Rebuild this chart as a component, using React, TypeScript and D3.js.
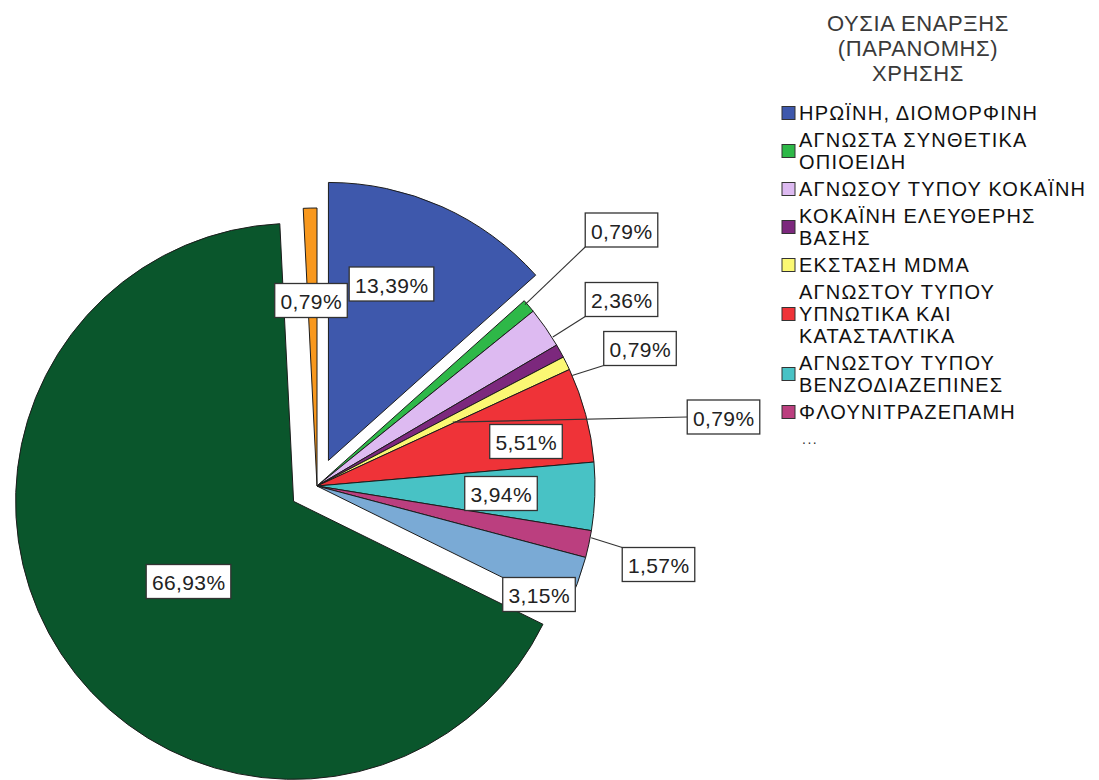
import React, { useMemo } from "react";
import * as d3 from "d3";

// ---------- data ----------
const CATEGORIES = [
  "ΗΡΩΪΝΗ, ΔΙΟΜΟΡΦΙΝΗ",
  "ΑΓΝΩΣΤΑ ΣΥΝΘΕΤΙΚΑ ΟΠΙΟΕΙΔΗ",
  "ΑΓΝΩΣΟΥ ΤΥΠΟΥ ΚΟΚΑΪΝΗ",
  "ΚΟΚΑΪΝΗ ΕΛΕΥΘΕΡΗΣ ΒΑΣΗΣ",
  "ΕΚΣΤΑΣΗ MDMA",
  "ΑΓΝΩΣΤΟΥ ΤΥΠΟΥ ΥΠΝΩΤΙΚΑ ΚΑΙ ΚΑΤΑΣΤΑΛΤΙΚΑ",
  "ΑΓΝΩΣΤΟΥ ΤΥΠΟΥ ΒΕΝΖΟΔΙΑΖΕΠΙΝΕΣ",
  "ΦΛΟΥΝΙΤΡΑΖΕΠΑΜΗ",
  "Κατηγορία 9",
  "Κατηγορία 10",
  "Κατηγορία 11",
];
const PERCENTS = [13.39, 0.79, 2.36, 0.79, 0.79, 5.51, 3.94, 1.57, 3.15, 66.93, 0.79];
const COLORS = [
  "#3E58AC", "#2EB848", "#DDBAF1", "#7C287D", "#FBF873", "#EF3338",
  "#48C2C5", "#BB3F7F", "#7AAAD5", "#0A562C", "#F8981D",
];
const EXPLODED = [true, false, false, false, false, false, false, false, false, true, false];

const LEGEND_TITLE = ["ΟΥΣΙΑ ΕΝΑΡΞΗΣ", "(ΠΑΡΑΝΟΜΗΣ)", "ΧΡΗΣΗΣ"];
const LEGEND_LINES = [
  ["ΗΡΩΪΝΗ, ΔΙΟΜΟΡΦΙΝΗ"],
  ["ΑΓΝΩΣΤΑ ΣΥΝΘΕΤΙΚΑ", "ΟΠΙΟΕΙΔΗ"],
  ["ΑΓΝΩΣΟΥ ΤΥΠΟΥ ΚΟΚΑΪΝΗ"],
  ["ΚΟΚΑΪΝΗ ΕΛΕΥΘΕΡΗΣ", "ΒΑΣΗΣ"],
  ["ΕΚΣΤΑΣΗ MDMA"],
  ["ΑΓΝΩΣΤΟΥ ΤΥΠΟΥ", "ΥΠΝΩΤΙΚΑ ΚΑΙ", "ΚΑΤΑΣΤΑΛΤΙΚΑ"],
  ["ΑΓΝΩΣΤΟΥ ΤΥΠΟΥ", "ΒΕΝΖΟΔΙΑΖΕΠΙΝΕΣ"],
  ["ΦΛΟΥΝΙΤΡΑΖΕΠΑΜΗ"],
];

// ---------- layout (label boxes, leader anchors: angle in degrees, radius) ----------
const LABEL_LAYOUT: { x: number; y: number; anchorDeg?: number; anchorR?: number }[] = [
  { x: 391.5, y: 284 },
  { x: 621.5, y: 230, anchorDeg: 48.9, anchorR: 276 },
  { x: 621.5, y: 299.5, anchorDeg: 57.7, anchorR: 279 },
  { x: 640, y: 348.5, anchorDeg: 66.6, anchorR: 278 },
  { x: 723.5, y: 417, anchorDeg: 64.8, anchorR: 150 },
  { x: 526, y: 441.5 },
  { x: 501, y: 493.5 },
  { x: 658.5, y: 564.5, anchorDeg: 100.7, anchorR: 279 },
  { x: 539, y: 594.5 },
  { x: 188.5, y: 581.5 },
  { x: 311, y: 300.5 },
];

const W = 1099;
const H = 780;
const CX = 317;
const CY = 486;
const R = 278;
const EXPLODE = 28;
const FONT = '"Liberation Sans", Arial, sans-serif';
const LABEL_FONT_SIZE = 21;
const LABEL_SPACING = 0.4;
const BOX_H = 34;

function fmt(v: number) {
  return d3.format(".2f")(v).replace(".", ",") + "%";
}

export default function App() {
  const slices = useMemo(() => {
    const pie = d3.pie<number>().sort(null).value((d) => d).startAngle(0).endAngle(2 * Math.PI);
    return pie(PERCENTS);
  }, []);
  const arc = d3.arc<d3.PieArcDatum<number>>().innerRadius(0).outerRadius(R);

  const measure = useMemo(() => {
    const c = document.createElement("canvas").getContext("2d")!;
    c.font = `${LABEL_FONT_SIZE}px ${FONT}`;
    return (s: string) => c.measureText(s).width + LABEL_SPACING * s.length;
  }, []);

  // legend rows
  const legendRows: { lines: string[]; ys: number[]; color: string }[] = [];
  let y = 113;
  LEGEND_LINES.forEach((lines, i) => {
    const ys = lines.map((_, k) => y + k * 22);
    legendRows.push({ lines, ys, color: COLORS[i] });
    y = ys[ys.length - 1] + 27;
  });
  const dotsY = y;

  return (
    <svg
      width={W}
      height={H}
      style={{ position: "absolute", left: 0, top: 0, display: "block", background: "#fff" }}
      fontFamily={FONT}
    >
      <rect x={0} y={0} width={W} height={H} fill="#fff" />
      <g transform={`translate(${CX},${CY})`}>
        {slices.map((s, i) => {
          const mid = (s.startAngle + s.endAngle) / 2;
          const dx = EXPLODED[i] ? Math.sin(mid) * EXPLODE : 0;
          const dy = EXPLODED[i] ? -Math.cos(mid) * EXPLODE : 0;
          return (
            <path
              key={i}
              d={arc(s) || ""}
              transform={`translate(${dx},${dy})`}
              fill={COLORS[i]}
              stroke="#1c1c1c"
              strokeWidth={1}
              strokeLinejoin="round"
            />
          );
        })}
      </g>
      {/* leader lines */}
      {slices.map((s, i) => {
        const L = LABEL_LAYOUT[i];
        if (L.anchorDeg === undefined) return null;
        const a = (L.anchorDeg * Math.PI) / 180;
        const ax = CX + Math.sin(a) * (L.anchorR as number);
        const ay = CY - Math.cos(a) * (L.anchorR as number);
        const text = fmt(PERCENTS[i]);
        const bw = measure(text) + 11;
        const handles: [number, number][] = [];
        for (const hx of [-1, 0, 1])
          for (const hy of [-1, 0, 1]) {
            if (hx === 0 && hy === 0) continue;
            handles.push([L.x + (hx * bw) / 2, L.y + (hy * BOX_H) / 2]);
          }
        let best = handles[0];
        let bd = Infinity;
        handles.forEach((h) => {
          const d = Math.hypot(h[0] - ax, h[1] - ay);
          if (d < bd) {
            bd = d;
            best = h;
          }
        });
        return (
          <line key={"l" + i} x1={ax} y1={ay} x2={best[0]} y2={best[1]} stroke="#333" strokeWidth={1.1} />
        );
      })}
      {/* labels */}
      {slices.map((s, i) => {
        const L = LABEL_LAYOUT[i];
        const text = fmt(PERCENTS[i]);
        const bw = measure(text) + 11;
        return (
          <g key={"t" + i}>
            <rect
              x={L.x - bw / 2}
              y={L.y - BOX_H / 2}
              width={bw}
              height={BOX_H}
              fill="#fff"
              stroke="#333"
              strokeWidth={1.3}
            />
            <text
              x={L.x + LABEL_SPACING / 2}
              y={L.y + 1}
              textAnchor="middle"
              dominantBaseline="central"
              fontSize={LABEL_FONT_SIZE}
              letterSpacing={LABEL_SPACING}
              fill="#222"
            >
              {text}
            </text>
          </g>
        );
      })}
      {/* legend */}
      <g>
        {LEGEND_TITLE.map((t, k) => (
          <text
            key={"lt" + k}
            x={918}
            y={23 + k * 25}
            textAnchor="middle"
            dominantBaseline="central"
            fontSize={22}
            letterSpacing={0.6}
            fill="#3a3a3a"
          >
            {t}
          </text>
        ))}
        {legendRows.map((row, i) => {
          const cyMid = (row.ys[0] + row.ys[row.ys.length - 1]) / 2;
          return (
            <g key={"lg" + i}>
              <rect x={782} y={cyMid - 6.5} width={13} height={13} fill={row.color} stroke="#333" strokeWidth={1} />
              {row.lines.map((ln, k) => (
                <text
                  key={k}
                  x={799}
                  y={row.ys[k]}
                  dominantBaseline="central"
                  fontSize={20}
                  letterSpacing={1.2}
                  fill="#111"
                >
                  {ln}
                </text>
              ))}
            </g>
          );
        })}
        <text x={802} y={dotsY} dominantBaseline="central" fontSize={14} letterSpacing={1.5} fill="#333">
          ...
        </text>
      </g>
    </svg>
  );
}
